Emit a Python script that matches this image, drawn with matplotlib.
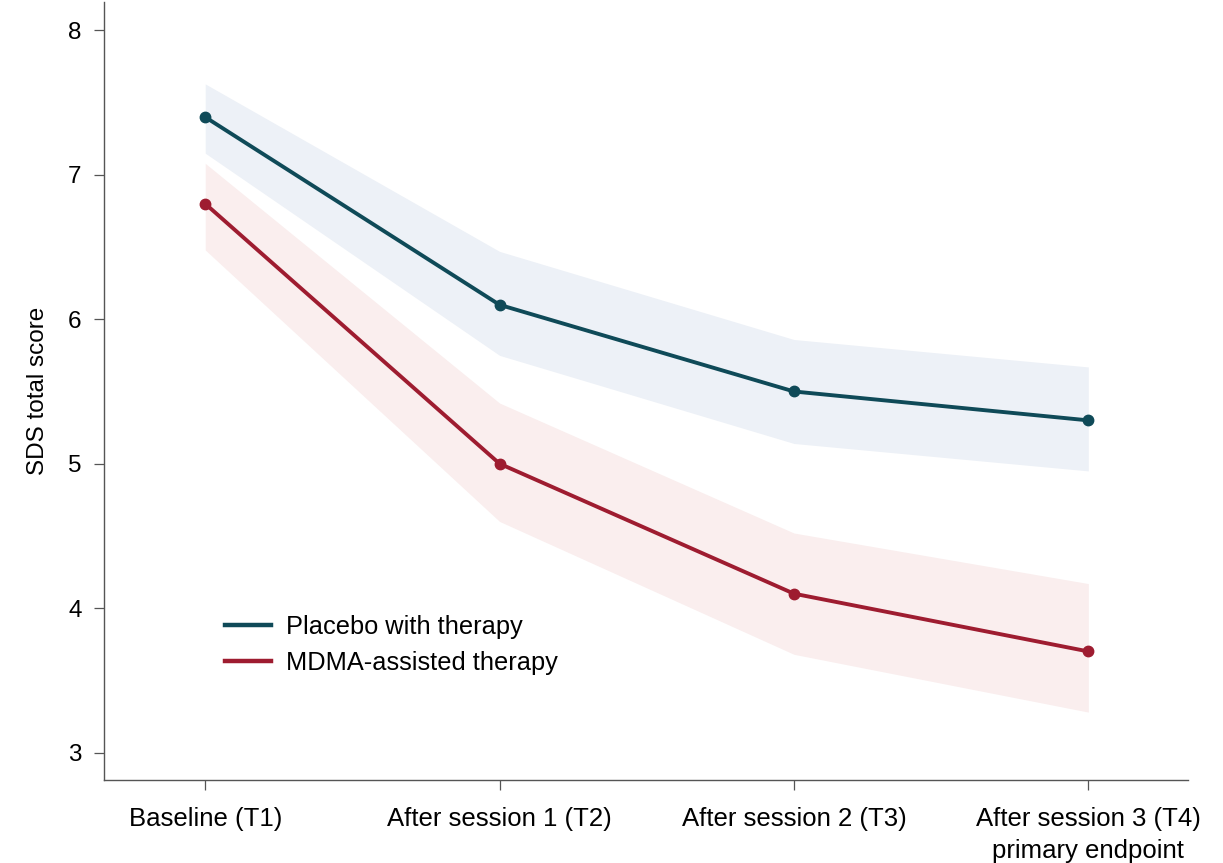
import matplotlib
matplotlib.use("Agg")
import matplotlib.pyplot as plt
import numpy as np

plt.rcParams['font.family'] = ['Liberation Sans', 'DejaVu Sans']

timepoints = ["Baseline (T1)", "After session 1 (T2)", "After session 2 (T3)",
              "After session 3 (T4)\nprimary endpoint"]
x_pos = [1, 2, 3, 4]

placebo_mean = [7.4, 6.1, 5.5, 5.3]
placebo_lo = [7.15, 5.75, 5.14, 4.95]
placebo_hi = [7.63, 6.47, 5.86, 5.67]

mdma_mean = [6.8, 5.0, 4.1, 3.7]
mdma_lo = [6.48, 4.60, 3.68, 3.28]
mdma_hi = [7.08, 5.42, 4.52, 4.17]

y_ticks = [3, 4, 5, 6, 7, 8]

placebo_color = "#0f4a58"
mdma_color = "#9e1c30"

fig = plt.figure(figsize=(12.23, 8.63), dpi=100)
ax = fig.add_axes([0.085, 0.0962, 0.886, 0.902])

ax.fill_between(x_pos, placebo_lo, placebo_hi, color="#edf1f7", lw=0)
ax.fill_between(x_pos, mdma_lo, mdma_hi, color="#faeeee", lw=0)

ax.plot(x_pos, placebo_mean, color=placebo_color, lw=2.8, marker="o", ms=7.5,
        label="Placebo with therapy", zorder=3)
ax.plot(x_pos, mdma_mean, color=mdma_color, lw=2.8, marker="o", ms=7.5,
        label="MDMA-assisted therapy", zorder=3)

ax.set_xlim(0.656, 4.337)
ax.set_ylim(2.81, 8.2)
ax.set_xticks(x_pos)
ax.set_xticklabels(timepoints, fontsize=18.5, linespacing=1.4)
ax.set_yticks(y_ticks)
ax.set_yticklabels([str(v) for v in y_ticks], fontsize=17.5)
ax.set_ylabel("SDS total score", fontsize=17.5, labelpad=14)

for s in ["top", "right"]:
    ax.spines[s].set_visible(False)
for s in ["left", "bottom"]:
    ax.spines[s].set_color("#555555")
    ax.spines[s].set_linewidth(1.0)
ax.tick_params(axis="both", direction="out", length=7, width=0.9, color="#555555")
ax.tick_params(axis="x", pad=12.5)
ax.tick_params(axis="y", pad=9)

leg = ax.legend(loc="lower left", bbox_to_anchor=(0.0906, 0.105), frameon=False,
                fontsize=18.3, handlelength=1.8, handletextpad=0.6, labelspacing=0.5)
for line in leg.get_lines():
    line.set_marker("")
    line.set_linewidth(3.2)

fig.savefig("out.png", dpi=100, facecolor="white")
